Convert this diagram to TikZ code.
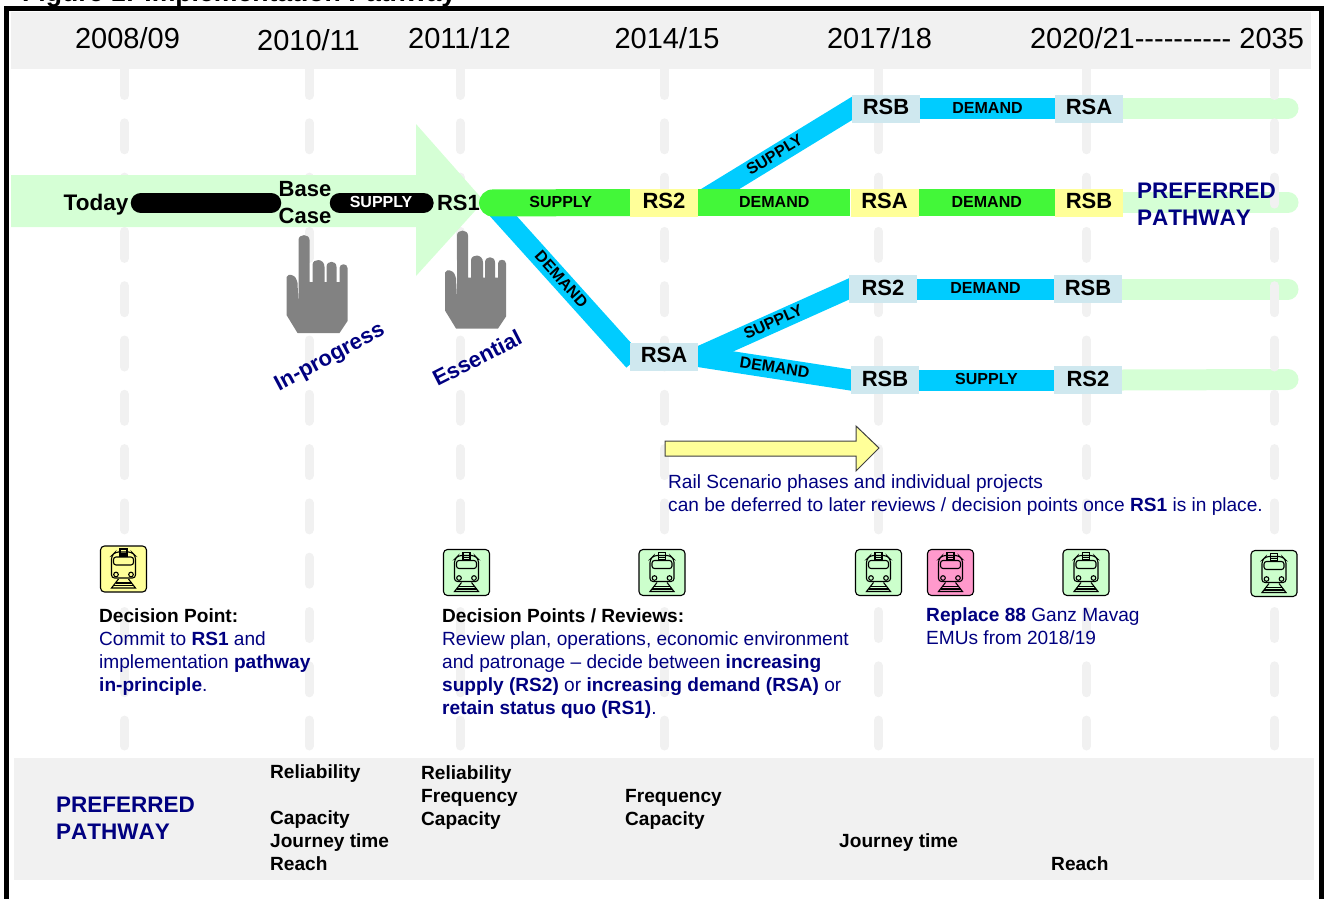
\documentclass[tikz,border=0pt]{standalone}
\usepackage{fontspec}
\setmainfont{Liberation Sans}
\usepackage{xcolor}
\usepackage{tikz}
\usetikzlibrary{backgrounds, calc, positioning}

\definecolor{bandg}{HTML}{F1F1F1}
\definecolor{pathl}{HTML}{D5FFD5}
\definecolor{pathg}{HTML}{43F739}
\definecolor{pathc}{HTML}{00CCFF}
\definecolor{boxb}{HTML}{CFE8EF}
\definecolor{boxy}{HTML}{FFFF99}
\definecolor{boxp}{HTML}{FF99CC}
\definecolor{boxg}{HTML}{CCFFCC}
\definecolor{navyt}{HTML}{000080}
\definecolor{handg}{HTML}{828282}

\newcommand{\handicon}[2]{%
\fill [handg, shift={(#1,#2)}] (0,42) .. controls (1,40) and (3,39) .. (5,40)
  .. controls (9,41) and (10,44) .. (11,48) -- (12,69) -- (12,5)
  .. controls (12,-1.5) and (23,-1.5) .. (23,5) -- (23,47) -- (26,47) -- (26,30)
  .. controls (26,23) and (38,23) .. (38,32) -- (38,47) -- (40,47) -- (40,32)
  .. controls (40,25) and (50,25) .. (50,32) -- (50,47) -- (53,47) -- (53,33)
  .. controls (53,28) and (61,28) .. (61,33) -- (61,86) -- (53,98) -- (11,98) -- (0,80) -- cycle;
}
\newcommand{\trainicon}[1]{%
\begin{scope}[shift={(#1)}, draw=black, line width=1.1pt]
\draw (-3.5,-20) rectangle (3.5,-15);
\draw (-3.5,-15) -- (-3.5,-13) -- (3.5,-13) -- (3.5,-15);
\draw [rounded corners=3pt] (-12,9) -- (-12,-13) -- (-8,-17) -- (8,-17) -- (12,-13) -- (12,9) -- cycle;
\draw [rounded corners=2.5pt] (-10,-12) rectangle (10,-4);
\draw (-7.5,5.5) circle (2.3);
\draw (7.5,5.5) circle (2.3);
\draw (-5,10) -- (-12,19) -- (12,19) -- (5,10);
\draw (-8,14) -- (8,14);
\draw (-10,16.5) -- (10,16.5);
\end{scope}
}

\begin{document}
\begin{tikzpicture}[x=1pt, y=-1pt]

\tikzstyle{yearl}=[font=\fontsize{29}{32}\selectfont, inner sep=0pt]
\tikzstyle{rsb}=[minimum width=68pt, minimum height=28pt, inner sep=0pt, text depth=3pt, fill=boxb, font=\fontsize{22}{24}\selectfont\bfseries]
\tikzstyle{rsy}=[rsb, fill=boxy]
\tikzstyle{startl}=[inner sep=1pt, font=\fontsize{22}{27}\selectfont\bfseries, align=center]
\tikzstyle{seg}=[inner sep=0pt, text depth=2pt, font=\fontsize{16}{18}\selectfont\bfseries]
\tikzstyle{seglight}=[draw=pathl, line width=21pt, line cap=round]
\tikzstyle{segc}=[draw=pathc, line width=21pt]
\tikzstyle{segg}=[draw=pathg, line width=27pt]
\tikzstyle{segk}=[draw=black, line width=20.5pt, line cap=round]
\tikzstyle{stalk}=[draw=bandg, line width=9pt, line cap=round, dash pattern=on 27pt off 27.3pt]
\tikzstyle{navyb}=[inner sep=0pt, text=navyt, font=\fontsize{22.5}{27}\selectfont\bfseries\addfontfeature{Kerning=Off}, align=left]
\tikzstyle{bodyt}=[inner sep=0pt, anchor=north west, align=left, text=navyt, font=\fontsize{19.1}{23}\selectfont]
\tikzstyle{listt}=[inner sep=0pt, anchor=north west, align=left, font=\fontsize{19.1}{23}\selectfont\bfseries]
\tikzstyle{trainb}=[draw=black, line width=1.1pt, rounded corners=4pt, minimum size=46pt, inner sep=0pt]

\useasboundingbox (0,0) rectangle (1325,899);

\node (title) at (22,2) [anchor=base west, inner sep=0pt, font=\fontsize{26.6}{28}\selectfont\bfseries] {Figure 1: Implementation Pathway};

% boxes on the pathways
\node (p11) at (886,108.5) [rsb] {RSB};
\node (p12) at (1089,108.5) [rsb] {RSA};
\node (p21) at (664,202.5) [rsy] {RS2};
\node (p22) at (884.5,202.5) [rsy] {RSA};
\node (p23) at (1089,202.5) [rsy] {RSB};
\node (p31) at (664,356.5) [rsb] {RSA};
\node (p41) at (883,289) [rsb] {RS2};
\node (p42) at (1088,289) [rsb] {RSB};
\node (p51) at (885,380) [rsb] {RSB};
\node (p52) at (1088,380) [rsb] {RS2};

\node (today) at (96,203) [startl, text height=20pt, font=\fontsize{22.5}{27}\selectfont\bfseries] {Today};
\node (base) at (305,203) [startl] {Base\\Case};
\node (rs1) at (458.5,203) [startl] {RS1};

\coordinate (e1) at (1288,108.5);
\coordinate (e2) at (1288,202.5);
\coordinate (e4) at (1288,289);
\coordinate (e5) at (1288,379.5);
\coordinate (j1) at (491.5,203);

\begin{scope}[on background layer]
\fill [bandg] (11,12) rectangle (1311,69);
\fill [bandg] (14,758) rectangle (1314,880);

\draw [seglight] (p12.east) -- (e1);
\draw [seglight] (p23.east) -- (e2);
\draw [seglight] (p42.east) -- (e4);
\draw [seglight] (p52.east) -- (e5);

\foreach \xx in {124.5, 309, 460, 664.5, 878.5, 1086.5, 1274.5}
  \draw [stalk] (\xx,68.5) -- (\xx,746);

\fill [pathl] (11,175) -- (416,175) -- (416,124) -- (484,201) -- (416,276) -- (416,227) -- (11,227) -- cycle;

\draw [segk, shorten <=11.5pt, shorten >=6.5pt] (today.east) -- (base.west);
\draw [segk, shorten <=7.5pt, shorten >=12.5pt] (base.east) -- (rs1.west)
  node [pos=0.47, seg, text=white] {SUPPLY};

\draw [segc, line width=20pt, shorten >=-6pt] (p21.east) -- (p11.west)
  node [midway, sloped, seg, text=black] {SUPPLY};
\draw [segc, line width=20pt, shorten >=-6pt] (j1) -- (p31.west)
  node [midway, sloped, seg, text=black] {DEMAND};
\draw [segc, line width=19.5pt, shorten >=-6pt] (p31.east) -- (p41.west)
  node [midway, sloped, seg, text=black] {SUPPLY};
\draw [segc, shorten >=-6pt] (p31.east) -- (p51.west)
  node [midway, sloped, seg, text=black] {DEMAND};
\draw [segc] (p11.east) -- (p12.west) node [midway, seg, text=black] {DEMAND};
\draw [segc] (p41.east) -- (p42.west) node [midway, seg, text=black] {DEMAND};
\draw [segc] (p51.east) -- (p52.west) node [midway, seg, text=black] {SUPPLY};

\draw [segg, line cap=round, shorten <=11.5pt] (rs1.east) -- (p21.west)
  node [pos=0.535, seg, text=black] {SUPPLY};
\draw [segg] (p21.east) -- (p22.west) node [midway, seg, text=black] {DEMAND};
\draw [segg] (p22.east) -- (p23.west) node [midway, seg, text=black] {DEMAND};
\end{scope}

\draw [line width=4.7pt] (6.3,899) -- (6.3,8.5) -- (1321.7,8.5) -- (1321.7,899);

\node (y1) at (127.5,38) [yearl] {2008/09};
\node (y2) at (308.5,40) [yearl] {2010/11};
\node (y3) at (459.5,38) [yearl] {2011/12};
\node (y4) at (667,38) [yearl] {2014/15};
\node (y5) at (879.5,38) [yearl] {2017/18};
\node (y6) at (1167,38) [yearl] {2020/21-{}-{}-{}-{}-{}-{}-{}-{}-{}- 2035};

\handicon{286.5}{235}
\handicon{445}{230.5}

\node (prog) at (330,358) [navyb, rotate=28, font=\fontsize{22}{27}\selectfont\bfseries] {In-progress};
\node (essn) at (477,358) [navyb, rotate=27, font=\fontsize{22}{27}\selectfont\bfseries] {Essential};
\node (pref1) at (1137,204.5) [navyb, anchor=west] {PREFERRED\\PATHWAY};
\node (pref2) at (56,818.5) [navyb, anchor=west] {PREFERRED\\PATHWAY};

\draw [fill=boxy, draw=black!75, line width=1pt] (665,441) -- (856,441) -- (856,426) -- (879,448) -- (856,471) -- (856,456) -- (665,456) -- cycle;
\node (defer) at (668,474) [bodyt] {Rail Scenario phases and individual projects\\can be deferred to later reviews / decision points once \textbf{RS1} is in place.};

\node (tr1) at (123.5,569) [trainb, fill=boxy] {};
\node (tr2) at (466.5,572.5) [trainb, fill=boxg] {};
\node (tr3) at (662,572.5) [trainb, fill=boxg] {};
\node (tr4) at (878.5,572.5) [trainb, fill=boxg] {};
\node (tr5) at (950.5,572.5) [trainb, fill=boxp] {};
\node (tr6) at (1086,572.5) [trainb, fill=boxg] {};
\node (tr7) at (1274,573.5) [trainb, fill=boxg] {};
\foreach \nn in {tr1,tr2,tr3,tr4,tr5,tr6,tr7} {
  \trainicon{\nn}
}

\node (note1) at (99,608) [bodyt] {\textcolor{black}{\textbf{Decision Point:}}\\Commit to \textbf{RS1} and\\implementation \textbf{pathway}\\\textbf{in-principle}.};
\node (note2) at (442,608.5) [bodyt] {\textcolor{black}{\textbf{Decision Points / Reviews:}}\\Review plan, operations, economic environment\\and patronage -- decide between \textbf{increasing}\\\textbf{supply (RS2)} or \textbf{increasing demand (RSA)} or\\\textbf{retain status quo (RS1)}.};
\node (note3) at (926,607) [bodyt] {\textbf{Replace 88} Ganz Mavag\\EMUs from 2018/19};

\node (l1) at (270,764.5) [listt] {Reliability\\[23pt]Capacity\\Journey time\\Reach};
\node (l2) at (421,765.5) [listt] {Reliability\\Frequency\\Capacity};
\node (l3) at (625,789.5) [listt] {Frequency\\Capacity};
\node (l4) at (839,833) [listt] {Journey time};
\node (l5) at (1051,856) [listt] {Reach};

\end{tikzpicture}
\end{document}
